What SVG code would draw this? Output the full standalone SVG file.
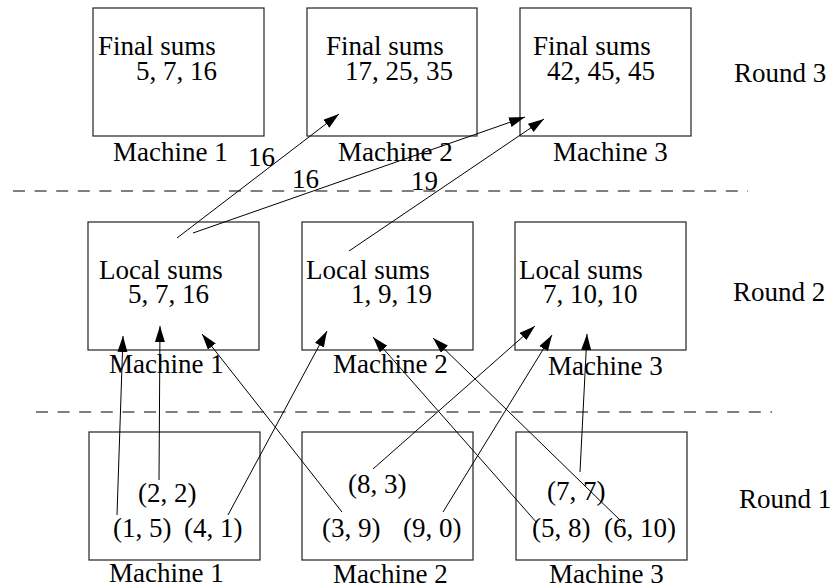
<svg xmlns="http://www.w3.org/2000/svg" width="835" height="588" viewBox="0 0 835 588">
  <style>
    .box { fill: #fff; stroke: #222; stroke-width: 1.2; }
    text { font-family: "Liberation Serif", "Times New Roman", serif; font-size: 27px; fill: #000; }
    .edge { stroke: #000; stroke-width: 1; fill: none; marker-end: url(#head); }
    .sep { stroke: #000; stroke-width: 1; stroke-dasharray: 12 9.6; fill: none; }
  </style>
  <defs>
    <marker id="head" markerUnits="userSpaceOnUse" markerWidth="17" markerHeight="11" refX="16" refY="5" orient="auto">
      <path d="M0,0 L16,5 L0,10 z" fill="#000"/>
    </marker>
  </defs>
  <rect width="835" height="588" fill="#fff"/>

  <!-- round separators -->
  <path class="sep" d="M13,191 H748"/>
  <path class="sep" d="M36,412 H772"/>

  <!-- round 3: final sums -->
  <g id="final1">
    <rect class="box" x="93" y="8" width="171" height="128"/>
    <text x="98" y="55">Final sums</text>
    <text x="136" y="80">5, 7, 16</text>
    <text x="113" y="161">Machine 1</text>
  </g>
  <g id="final2">
    <rect class="box" x="307" y="8" width="170" height="128"/>
    <text x="326" y="55">Final sums</text>
    <text x="345" y="80">17, 25, 35</text>
    <text x="338" y="161">Machine 2</text>
  </g>
  <g id="final3">
    <rect class="box" x="520" y="8" width="171" height="128"/>
    <text x="533" y="55">Final sums</text>
    <text x="547" y="80">42, 45, 45</text>
    <text x="553" y="161">Machine 3</text>
  </g>
  <text id="round3" x="734" y="82">Round 3</text>

  <!-- round 2: local sums -->
  <g id="local1">
    <rect class="box" x="88" y="222" width="171" height="128"/>
    <text x="99" y="279">Local sums</text>
    <text x="128" y="303">5, 7, 16</text>
    <text x="109" y="373">Machine 1</text>
  </g>
  <g id="local2">
    <rect class="box" x="302" y="222" width="171" height="128"/>
    <text x="306" y="279">Local sums</text>
    <text x="351" y="303">1, 9, 19</text>
    <text x="333" y="373">Machine 2</text>
  </g>
  <g id="local3">
    <rect class="box" x="515" y="222" width="171" height="128"/>
    <text x="519" y="279">Local sums</text>
    <text x="543" y="303">7, 10, 10</text>
    <text x="548" y="375">Machine 3</text>
  </g>
  <text id="round2" x="733" y="301">Round 2</text>

  <!-- round 1: input pairs -->
  <g id="input1">
    <rect class="box" x="89" y="432" width="171" height="128"/>
    <text x="138" y="502">(2, 2)</text>
    <text x="113" y="537">(1, 5)</text>
    <text x="184" y="537">(4, 1)</text>
    <text x="109" y="582">Machine 1</text>
  </g>
  <g id="input2">
    <rect class="box" x="302" y="432" width="171" height="128"/>
    <text x="348" y="493">(8, 3)</text>
    <text x="322" y="537">(3, 9)</text>
    <text x="403" y="537">(9, 0)</text>
    <text x="333" y="583">Machine 2</text>
  </g>
  <g id="input3">
    <rect class="box" x="516" y="432" width="171" height="128"/>
    <text x="547" y="500">(7, 7)</text>
    <text x="532" y="537">(5, 8)</text>
    <text x="604" y="537">(6, 10)</text>
    <text x="549" y="583">Machine 3</text>
  </g>
  <text id="round1" x="739" y="508">Round 1</text>

  <!-- connectors -->
  <g id="connectors">
    <!-- round 1 to round 2 -->
    <path class="edge" d="M117,515 L123,336"/>
    <path class="edge" d="M159,480 L160,326"/>
    <path class="edge" d="M228,515 L327,331"/>
    <path class="edge" d="M342,512 L202,334"/>
    <path class="edge" d="M373,469 L535,326"/>
    <path class="edge" d="M443,512 L552,335"/>
    <path class="edge" d="M537,523 L373,337"/>
    <path class="edge" d="M622,522 L433,338"/>
    <path class="edge" d="M580,472 L587,334"/>
    <!-- round 2 to round 3 -->
    <path class="edge" d="M177,238 L339,114"/>
    <path class="edge" d="M193,233 L525,117"/>
    <path class="edge" d="M349,251 L544,119"/>
    <!-- transfer labels -->
    <text x="248" y="166">16</text>
    <text x="292" y="188">16</text>
    <text x="411" y="190">19</text>
  </g>
</svg>
